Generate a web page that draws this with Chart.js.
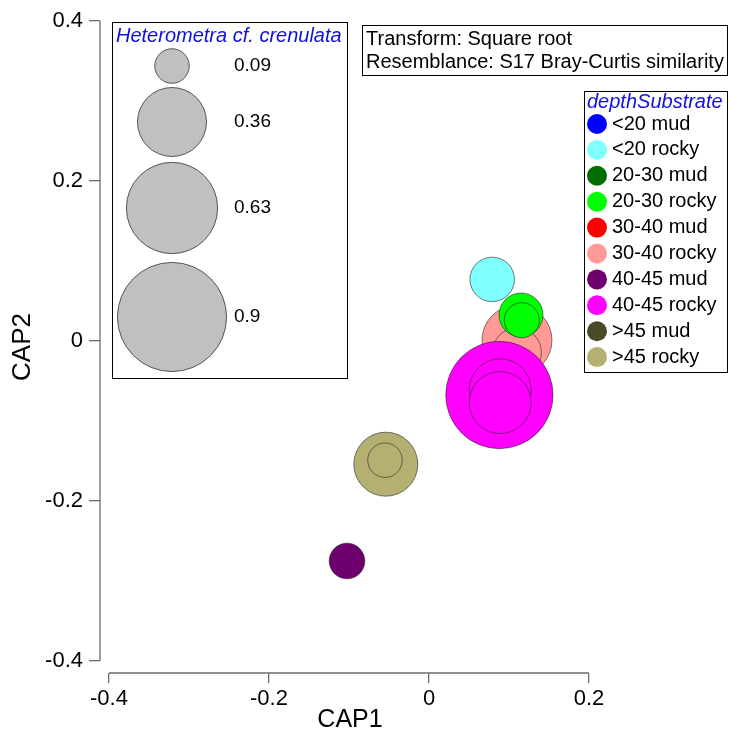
<!DOCTYPE html>
<html>
<head>
<meta charset="utf-8">
<script src="https://cdn.jsdelivr.net/npm/chart.js@4.4.1/dist/chart.umd.min.js"></script>
<style>
  body { margin: 0; background: #fff; }
  canvas { display: block; }
</style>
</head>
<body>
<canvas id="cap-chart" width="729" height="742"></canvas>
<script>
// groups shown in the depthSubstrate legend
const groups = ["<20 mud", "<20 rocky", "20-30 mud", "20-30 rocky", "30-40 mud",
                "30-40 rocky", "40-45 mud", "40-45 rocky", ">45 mud", ">45 rocky"];
const groupColors = ["#0000ff", "#80ffff", "#006f00", "#00ff00", "#ff0000",
                     "#ff9a96", "#6e006e", "#ff00ff", "#4a4a28", "#b5b071"];

// samples, in drawing order (later ones on top)
const sampleGroup = ["<20 rocky", "30-40 rocky", "30-40 rocky", "20-30 rocky", "20-30 rocky",
                     "40-45 rocky", "40-45 rocky", "40-45 rocky", ">45 rocky", ">45 rocky", "40-45 mud"];
const cap1 = [0.079, 0.110, 0.110, 0.115, 0.116, 0.088, 0.089, 0.089, -0.054, -0.055, -0.1025];
const cap2 = [0.077, 0.001, -0.014, 0.0325, 0.026, -0.0675, -0.061, -0.077, -0.154, -0.149, -0.275];
const abundance = [0.15, 0.37, 0.18, 0.146, 0.093, 0.87, 0.29, 0.29, 0.31, 0.09, 0.096];

// bubble size key
const sizeKey = [0.09, 0.36, 0.63, 0.9];

const xTicks = [-0.4, -0.2, 0, 0.2];
const yTicks = [-0.4, -0.2, 0, 0.2, 0.4];

const FONT = "'Liberation Sans', Arial, sans-serif";
const SIZE_PX = 57.5; // radius for abundance 1
const radiusOf = v => SIZE_PX * Math.sqrt(v);
const colorOf = g => groupColors[groups.indexOf(g)];

// detached axis lines and the legend boxes
const decorations = {
    id: "decorations",
    afterDraw(chart) {
        const ctx = chart.ctx;
        const xs = chart.scales.x, ys = chart.scales.y;
        const area = chart.chartArea;
        ctx.save();
        ctx.strokeStyle = "#6e6e6e";
        ctx.lineWidth = 1.3;
        ctx.beginPath();
        ctx.moveTo(xs.getPixelForValue(xTicks[0]), area.bottom);
        ctx.lineTo(xs.getPixelForValue(xTicks[xTicks.length - 1]), area.bottom);
        ctx.moveTo(area.left, ys.getPixelForValue(yTicks[yTicks.length - 1]));
        ctx.lineTo(area.left, ys.getPixelForValue(yTicks[0]));
        ctx.stroke();

        ctx.textBaseline = "middle";
        ctx.lineWidth = 1;

        // bubble size legend
        ctx.strokeStyle = "#000";
        ctx.strokeRect(112.5, 22.5, 235, 356);
        ctx.fillStyle = "#1010e0";
        ctx.font = "italic 20px " + FONT;
        ctx.fillText("Heterometra cf. crenulata", 116, 36);
        const keyY = [66, 122, 208, 317];
        sizeKey.forEach((v, i) => {
            ctx.beginPath();
            ctx.arc(172, keyY[i], radiusOf(v), 0, Math.PI * 2);
            ctx.fillStyle = "#c0c0c0";
            ctx.fill();
            ctx.strokeStyle = "#555";
            ctx.stroke();
            ctx.fillStyle = "#000";
            ctx.font = "19px " + FONT;
            ctx.fillText(String(v), 234, keyY[i]);
        });

        // transform box
        ctx.strokeStyle = "#000";
        ctx.strokeRect(362.5, 25.5, 365, 50);
        ctx.fillStyle = "#000";
        ctx.font = "20px " + FONT;
        ctx.fillText("Transform: Square root", 366, 39);
        ctx.fillText("Resemblance: S17 Bray-Curtis similarity", 366, 62);

        // depthSubstrate legend
        ctx.strokeRect(584.5, 91.5, 143, 281);
        ctx.fillStyle = "#1010e0";
        ctx.font = "italic 20px " + FONT;
        ctx.fillText("depthSubstrate", 587, 102);
        groups.forEach((g, i) => {
            const y = 124 + i * 25.9;
            ctx.beginPath();
            ctx.arc(597, y, 10, 0, Math.PI * 2);
            ctx.fillStyle = groupColors[i];
            ctx.fill();
            ctx.fillStyle = "#000";
            ctx.font = "20px " + FONT;
            ctx.fillText(g, 612, y);
        });
        ctx.restore();
    }
};

document.addEventListener("DOMContentLoaded", () => {
    const points = cap1.map((x, i) => ({ x: x, y: cap2[i], r: radiusOf(abundance[i]) }));
    const ctx = document.getElementById("cap-chart").getContext("2d");
    new Chart(ctx, {
        type: "bubble",
        data: {
            datasets: [{
                label: "samples",
                data: points,
                backgroundColor: sampleGroup.map(colorOf),
                borderColor: "rgba(40, 40, 40, 0.6)",
                borderWidth: 1,
            }],
        },
        options: {
            responsive: false,
            animation: false,
            devicePixelRatio: 1,
            events: [],
            layout: { autoPadding: false, padding: { top: 21, right: 129, left: 0, bottom: 0 } },
            plugins: { legend: { display: false }, tooltip: { enabled: false } },
            scales: {
                x: {
                    type: "linear",
                    bounds: "data",
                    min: -0.4 - 9 / 800,
                    max: -0.4 - 9 / 800 + 500 / 800,
                    afterBuildTicks: s => { s.ticks = xTicks.map(v => ({ value: v })); },
                    afterFit: s => { s.height = 69; },
                    border: { display: false },
                    grid: { drawOnChartArea: false, drawTicks: true, tickLength: 10, color: "#6e6e6e", lineWidth: 1.3 },
                    ticks: { color: "#000", font: { family: FONT, size: 22 }, padding: 3, maxRotation: 0,
                             callback: v => String(v) },
                    title: { display: true, text: "CAP1", color: "#000", font: { family: FONT, size: 25 },
                             padding: { top: 0, bottom: 7 } },
                },
                y: {
                    type: "linear",
                    bounds: "data",
                    max: 0.4,
                    min: 0.4 - 652 / 800,
                    afterBuildTicks: s => { s.ticks = yTicks.map(v => ({ value: v })); },
                    afterFit: s => { s.width = 100; },
                    border: { display: false },
                    grid: { drawOnChartArea: false, drawTicks: true, tickLength: 11, color: "#6e6e6e", lineWidth: 1.3 },
                    ticks: { color: "#000", font: { family: FONT, size: 22 }, padding: 6,
                             callback: v => String(v) },
                    title: { display: true, text: "CAP2", color: "#000", font: { family: FONT, size: 26 },
                             padding: { top: 7, bottom: 0 } },
                },
            },
        },
        plugins: [decorations],
    });
});
</script>
</body>
</html>
